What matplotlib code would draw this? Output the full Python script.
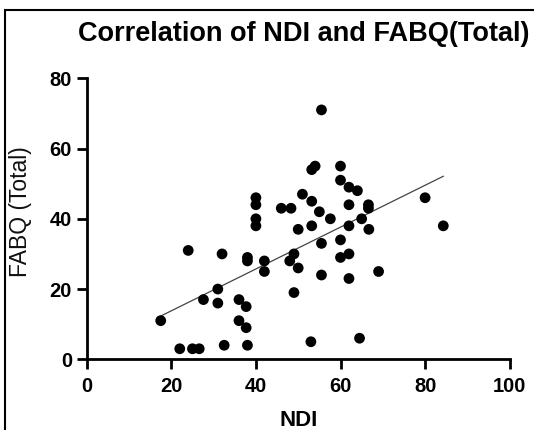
import numpy as np
import matplotlib
matplotlib.use("Agg")
import matplotlib.pyplot as plt
from matplotlib.patches import Rectangle

plt.rcParams['font.family'] = ['Liberation Sans', 'DejaVu Sans']

# Data
ndi = [17.5, 22, 25, 26.6, 24, 27.6, 31, 31, 32, 32.5,
       36, 37.7, 36, 37.7, 38, 38, 38, 40, 40, 40,
       40, 42, 42, 46, 48.3, 51, 50, 49, 48, 50,
       49, 53, 55.5, 53.2, 54, 60, 60, 62, 64, 53.2,
       55, 57.6, 62, 66.6, 66.6, 65, 66.7, 62, 53.2, 55.5,
       60, 60, 62, 55.5, 62, 69, 64.5, 80, 84.3]
fabq = [11, 3, 3, 3, 31, 17, 20, 16, 30, 4,
        17, 15, 11, 9, 4, 29, 28, 46, 44, 40,
        38, 28, 25, 43, 43, 47, 37, 30, 28, 26,
        19, 5, 71, 54, 55, 55, 51, 49, 48, 45,
        42, 40, 44, 44, 43, 40, 37, 38, 38, 33,
        34, 29, 30, 24, 23, 25, 6, 46, 38]

x_ticks = [0, 20, 40, 60, 80, 100]
y_ticks = [0, 20, 40, 60, 80]

title = "Correlation of NDI and FABQ(Total)"
xlabel = "NDI"
ylabel = "FABQ (Total)"

W, H = 534, 430
fig = plt.figure(figsize=(W / 100, H / 100), dpi=100)
ax = fig.add_axes([86.7 / W, 70.7 / H, (509.7 - 86.7) / W, (359.3 - 78.3) / H])

x = np.array(ndi)
y = np.array(fabq)
slope, intercept = np.polyfit(x, y, 1)
xs = np.array([x.min(), x.max()])
ax.plot(xs, slope * xs + intercept, color='#444444', lw=0.9, zorder=2)
ax.scatter(x, y, s=60, color='black', edgecolors='none', zorder=3, clip_on=False)

ax.set_xlim(0, 100)
ax.set_ylim(0, 80)
ax.set_xticks(x_ticks)
ax.set_yticks(y_ticks)
ax.set_xticklabels([str(t) for t in x_ticks], fontsize=14.5, fontweight='bold')
ax.set_yticklabels([str(t) for t in y_ticks], fontsize=14.5, fontweight='bold')

for s in ['top', 'right']:
    ax.spines[s].set_visible(False)
for s in ['left', 'bottom']:
    ax.spines[s].set_linewidth(2.0)
ax.tick_params(axis='x', direction='out', length=7.5, width=2.0, pad=5, colors='black')
ax.tick_params(axis='y', direction='out', length=7.5, width=2.0, pad=3, colors='black')

fig.text(303.5 / W, 1 - 41 / H, title, ha='center', va='baseline',
         fontsize=19.5, fontweight='bold')
fig.text(298.3 / W, 1 - 426.5 / H, xlabel, ha='center', va='baseline',
         fontsize=16, fontweight='bold')
fig.text(21 / W, 1 - 212 / H, ylabel, ha='center', va='center', rotation=90,
         fontsize=16.5, color='#111111')

# image frame (cropped on right and bottom)
fig.patches.append(Rectangle((5 / W, -0.1), 1.2, 1 - 10 / H + 0.1,
                             transform=fig.transFigure, fill=False,
                             edgecolor='black', lw=1.5, clip_on=False))

fig.savefig("out.png", dpi=100)
